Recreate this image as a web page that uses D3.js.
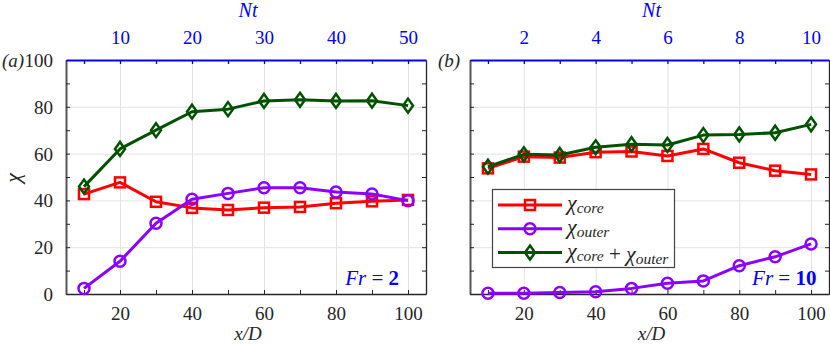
<!DOCTYPE html>
<html>
<head>
<meta charset="utf-8">
<script src="https://cdn.jsdelivr.net/npm/d3@7"></script>
<style>
  body { margin: 0; background: #fff; }
  svg text { font-family: "Liberation Serif", "Times New Roman", "DejaVu Serif", serif; }
</style>
</head>
<body>
<div id="vis"></div>
<script>
// Frame constants
const FRAME_WIDTH = 830;
const FRAME_HEIGHT = 347;
const TOP = 60, BOTTOM = 294;
const SERIF = "Liberation Serif, Times New Roman, serif";
const PANELS = [
  {left: 66, right: 426, tag: "(a)", fr: "2", ntDiv: 2, ntTicks: [10, 20, 30, 40, 50], ntMinor: [5, 10, 15, 20, 25, 30, 35, 40, 45, 50], yLabels: true},
  {left: 470, right: 829, tag: "(b)", fr: "10", ntDiv: 10, ntTicks: [2, 4, 6, 8, 10], ntMinor: [1, 2, 3, 4, 5, 6, 7, 8, 9, 10], yLabels: false}
];

// Data
const xD = [10, 20, 30, 40, 50, 60, 70, 80, 90, 100];
const coreA  = [42.7, 47.7, 39.4, 36.8, 35.9, 36.9, 37.2, 38.8, 39.6, 40.2];
const outerA = [2.4, 14.0, 30.2, 40.5, 43.0, 45.4, 45.4, 43.6, 42.7, 39.9];
const sumA   = [45.9, 62.0, 70.0, 77.9, 79.0, 82.5, 83.0, 82.5, 82.6, 80.5];
const coreB  = [53.7, 58.7, 58.3, 60.6, 60.9, 59.0, 62.0, 56.1, 52.7, 51.1];
const outerB = [0.3, 0.3, 0.6, 1.0, 2.4, 4.6, 5.6, 12.1, 15.9, 21.4];
const sumB   = [54.4, 59.7, 59.4, 62.7, 64.0, 63.7, 67.9, 68.2, 68.9, 72.5];
const xTicks = [20, 40, 60, 80, 100];
const yTicks = [0, 20, 40, 60, 80, 100];

const SERIES = [
  [{vals: coreA, color: "#ff0000", marker: "square"},
   {vals: outerA, color: "#8c00ff", marker: "circle"},
   {vals: sumA, color: "#005200", marker: "diamond"}],
  [{vals: coreB, color: "#ff0000", marker: "square"},
   {vals: outerB, color: "#8c00ff", marker: "circle"},
   {vals: sumB, color: "#005200", marker: "diamond"}]
];

const AXIS_COLOR = "#262626";
const BLUE = "#0000ff";

const FRAME = d3.select("#vis")
  .append("svg")
    .attr("width", FRAME_WIDTH)
    .attr("height", FRAME_HEIGHT)
    .attr("font-family", SERIF);

function drawMarker(g, type, cx, cy, color) {
  if (type === "square") {
    g.append("rect")
      .attr("x", cx - 5).attr("y", cy - 5)
      .attr("width", 10).attr("height", 10)
      .attr("fill", "none").attr("stroke", color).attr("stroke-width", 2.5);
  } else if (type === "circle") {
    g.append("circle")
      .attr("cx", cx).attr("cy", cy).attr("r", 5.5)
      .attr("fill", "none").attr("stroke", color).attr("stroke-width", 2.5);
  } else {
    g.append("path")
      .attr("d", `M${cx},${cy - 7}L${cx + 5},${cy}L${cx},${cy + 7}L${cx - 5},${cy}Z`)
      .attr("fill", "none").attr("stroke", color).attr("stroke-width", 2.5);
  }
}

PANELS.forEach((p, i) => {
  const X_SCALE = d3.scaleLinear().domain([5, 105]).range([p.left, p.right]);
  const Y_SCALE = d3.scaleLinear().domain([0, 100]).range([BOTTOM, TOP]);
  const NT_SCALE = d3.scaleLinear().domain([5 / p.ntDiv, 105 / p.ntDiv]).range([p.left, p.right]);
  const W = p.right - p.left, H = BOTTOM - TOP;

  // grid
  FRAME.append("g")
    .attr("transform", `translate(0,${BOTTOM})`)
    .call(d3.axisBottom(X_SCALE).tickValues(xTicks).tickSize(-H).tickFormat(""))
    .call(g => g.select(".domain").remove())
    .selectAll("line").attr("stroke", "#e3e3e3");
  FRAME.append("g")
    .attr("transform", `translate(${p.left},0)`)
    .call(d3.axisLeft(Y_SCALE).tickValues(yTicks).tickSize(-W).tickFormat(""))
    .call(g => g.select(".domain").remove())
    .selectAll("line").attr("stroke", "#e3e3e3");

  // bottom axis
  const bx = FRAME.append("g")
    .attr("transform", `translate(0,${BOTTOM})`)
    .call(d3.axisBottom(X_SCALE).tickValues(d3.range(10, 101, 10)).tickSize(-4).tickSizeOuter(0)
      .tickFormat(d => xTicks.includes(d) ? d : ""))
    .attr("font-family", SERIF);
  bx.selectAll("text").attr("font-size", 19).attr("dy", 0).attr("y", 26)
    .attr("fill", AXIS_COLOR);
  bx.selectAll("line").attr("stroke", AXIS_COLOR);
  bx.select(".domain").attr("stroke", AXIS_COLOR).attr("stroke-width", 1.3);

  // right axis
  const rx = FRAME.append("g")
    .attr("transform", `translate(${p.right},0)`)
    .call(d3.axisRight(Y_SCALE).tickValues(d3.range(0, 101, 10)).tickSize(-4).tickSizeOuter(0).tickFormat(""));
  rx.selectAll("line").attr("stroke", AXIS_COLOR);
  rx.select(".domain").attr("stroke", AXIS_COLOR).attr("stroke-width", 1.3);

  // left axis
  const lx = FRAME.append("g")
    .attr("transform", `translate(${p.left},0)`)
    .call(d3.axisLeft(Y_SCALE).tickValues(d3.range(0, 101, 10)).tickSize(-4).tickSizeOuter(0)
      .tickFormat(d => (p.yLabels && yTicks.includes(d)) ? d : ""))
    .attr("font-family", SERIF);
  lx.selectAll("text").attr("font-size", 19).attr("x", -13).attr("dy", "0.34em")
    .attr("fill", AXIS_COLOR);
  lx.selectAll("line").attr("stroke", AXIS_COLOR);
  lx.select(".domain").attr("stroke", "#555").attr("stroke-width", 2);

  // top axis (Nt)
  const tx = FRAME.append("g")
    .attr("transform", `translate(0,${TOP})`)
    .call(d3.axisTop(NT_SCALE).tickValues(p.ntMinor).tickSize(-4).tickSizeOuter(0)
      .tickFormat(d => p.ntTicks.includes(d) ? d : ""))
    .attr("font-family", SERIF);
  tx.selectAll("text").attr("font-size", 19).attr("y", -16).attr("dy", 0)
    .attr("fill", BLUE);
  tx.selectAll("line").attr("stroke", BLUE).attr("stroke-width", 1.3);
  tx.select(".domain").attr("stroke", BLUE).attr("stroke-width", 1.8);

  // axis titles
  FRAME.append("text")
    .attr("x", (p.left + p.right) / 2 + 2).attr("y", 340)
    .attr("text-anchor", "middle").attr("font-size", 19).attr("font-style", "italic")
    .attr("fill", AXIS_COLOR).text("x/D");
  FRAME.append("text")
    .attr("x", (p.left + p.right) / 2 + 2).attr("y", 17)
    .attr("text-anchor", "middle").attr("font-size", 20).attr("font-style", "italic")
    .attr("fill", BLUE).text("Nt");
  FRAME.append("text")
    .attr("x", p.left - (i === 0 ? 64 : 32)).attr("y", 67)
    .attr("font-size", 19).attr("font-style", "italic")
    .attr("fill", AXIS_COLOR).text(p.tag);

  // Fr annotation
  const fr = FRAME.append("text")
    .attr("x", X_SCALE(i === 0 ? 97.5 : 101.5)).attr("y", 285)
    .attr("text-anchor", "end").attr("font-size", 21).attr("fill", BLUE);
  fr.append("tspan").attr("font-style", "italic").text("Fr");
  fr.append("tspan").text(" = ");
  fr.append("tspan").attr("font-weight", "bold").text(p.fr);

  // series
  const line = d3.line().x((d, j) => X_SCALE(xD[j])).y(d => Y_SCALE(d));
  SERIES[i].forEach(s => {
    FRAME.append("path")
      .datum(s.vals)
      .attr("d", line)
      .attr("fill", "none").attr("stroke", s.color).attr("stroke-width", 3)
      .attr("stroke-linejoin", "round");
    const mg = FRAME.append("g");
    s.vals.forEach((v, j) => drawMarker(mg, s.marker, X_SCALE(xD[j]), Y_SCALE(v), s.color));
  });
});

// y label
FRAME.append("text")
  .attr("transform", "translate(20,178) rotate(-90)")
  .attr("text-anchor", "middle").attr("font-size", 22).attr("font-style", "italic")
  .attr("fill", AXIS_COLOR).text("χ");

// legend
const LEG = FRAME.append("g");
LEG.append("rect")
  .attr("x", 492.5).attr("y", 189.5).attr("width", 182).attr("height", 78)
  .attr("fill", "#fff").attr("stroke", "#444").attr("stroke-width", 1.2);
const legItems = [
  {color: "#ff0000", marker: "square", parts: [["χ", "core"]]},
  {color: "#8c00ff", marker: "circle", parts: [["χ", "outer"]]},
  {color: "#005200", marker: "diamond", parts: [["χ", "core"], [" + ", null], ["χ", "outer"]]}
];
legItems.forEach((it, k) => {
  const cy = 205 + k * 23.8;
  LEG.append("line").attr("x1", 498).attr("x2", 562).attr("y1", cy).attr("y2", cy)
    .attr("stroke", it.color).attr("stroke-width", 3);
  drawMarker(LEG, it.marker, 530, cy, it.color);
  const t = LEG.append("text").attr("x", 567).attr("y", cy + 5)
    .attr("font-size", 20).attr("fill", AXIS_COLOR);
  it.parts.forEach(([main, sub]) => {
    if (sub === null) {
      t.append("tspan").attr("font-size", 21).text(main);
    } else {
      t.append("tspan").attr("font-style", "italic").attr("font-size", 22).text(main);
      t.append("tspan").attr("font-style", "italic").attr("font-size", 15.5).attr("dy", 3).text(sub);
      t.append("tspan").attr("font-size", 20).attr("dy", -3).text("");
    }
  });
});
</script>
</body>
</html>
